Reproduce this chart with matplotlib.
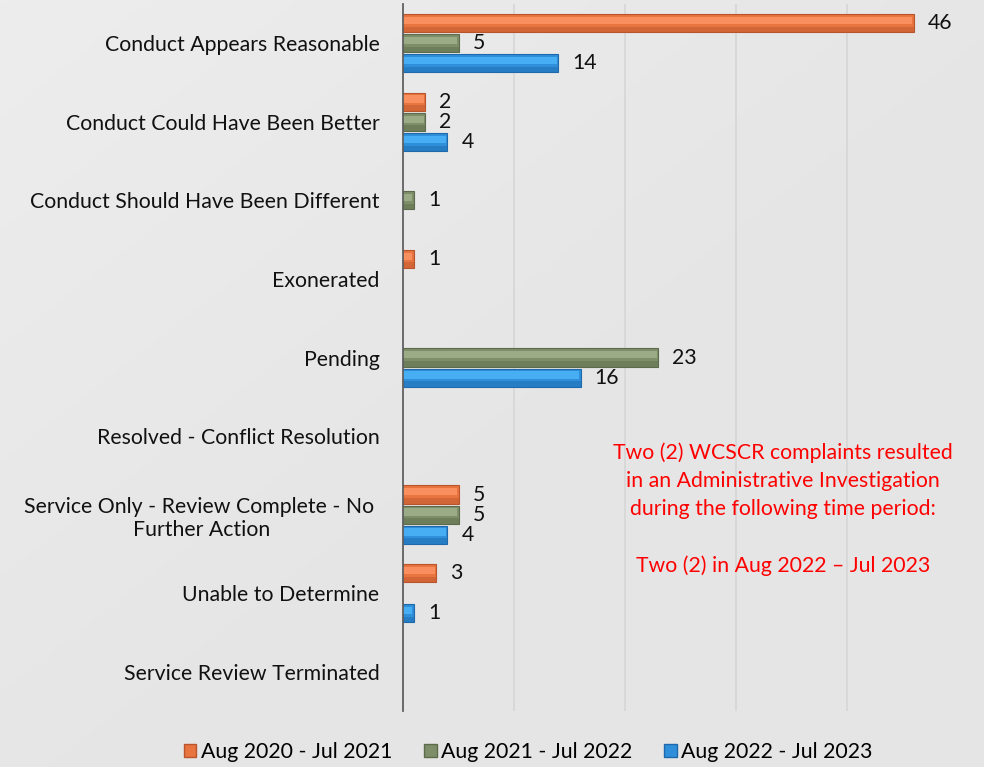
import numpy as np
import matplotlib
matplotlib.use("Agg")
import matplotlib.pyplot as plt
from matplotlib.patches import Patch

categories = [
    "Conduct Appears Reasonable",
    "Conduct Could Have Been Better",
    "Conduct Should Have Been Different",
    "Exonerated",
    "Pending",
    "Resolved - Conflict Resolution",
    "Service Only - Review Complete - No \nFurther Action",
    "Unable to Determine",
    "Service Review Terminated",
]
series_names = ["Aug 2020 - Jul 2021", "Aug 2021 - Jul 2022", "Aug 2022 - Jul 2023"]
aug20_jul21 = [46, 2, 0, 1, 0, 0, 5, 3, 0]
aug21_jul22 = [5, 2, 1, 0, 23, 0, 5, 0, 0]
aug22_jul23 = [14, 4, 0, 0, 16, 0, 4, 1, 0]

note = ("Two (2) WCSCR complaints resulted\n"
        "in an Administrative Investigation\n"
        "during the following time period:\n\n"
        "Two (2) in Aug 2022 \u2013 Jul 2023")

# (mid, light, dark) shades for the bevel look
palette = [
    ("#E8743F", "#F98F5E", "#B9552C"),
    ("#7D8E68", "#9BAB86", "#5C6B4B"),
    ("#2F8FDA", "#48AEF3", "#1E69AB"),
]

plt.rcParams["font.family"] = ["Lato", "DejaVu Sans"]
FS = 15.3

fig = plt.figure(figsize=(9.84, 7.67), dpi=100)
fig.patch.set_facecolor("#E5E5E5")

# soft diagonal background gradient
bg = fig.add_axes([0, 0, 1, 1], zorder=-10)
gx, gy = np.meshgrid(np.linspace(0, 1, 200), np.linspace(0, 1, 200))
grad = np.clip((gx + gy) / 1.2, 0, 1)
bg.imshow(grad, cmap=matplotlib.colors.LinearSegmentedColormap.from_list(
    "bgg", ["#EDEDED", "#E5E5E5"]), extent=[0, 1, 0, 1], aspect="auto", origin="upper")
bg.axis("off")

ax = fig.add_axes([403 / 984, 1 - 711 / 767, 555 / 984, 707 / 767])
ax.set_facecolor("none")

y = np.arange(len(categories))
h = 0.23
offsets = [-0.256, 0.0, 0.256]
all_series = [aug20_jul21, aug21_jul22, aug22_jul23]

for vals, off, (mid, light, dark) in zip(all_series, offsets, palette):
    vals = np.array(vals)
    ys = y + off
    mask = vals > 0
    ax.barh(ys[mask], vals[mask], height=h, color=mid, edgecolor=dark,
            linewidth=0.8, zorder=3)
    ax.barh(ys[mask] - h * 0.15, vals[mask] - 0.15, height=h * 0.4,
            color=light, linewidth=0, zorder=4)
    ax.barh(ys[mask] + h * 0.35, vals[mask], height=h * 0.3,
            color=dark, alpha=0.45, linewidth=0, zorder=4)
    for yy, v in zip(ys[mask], vals[mask]):
        ax.annotate(str(v), (v, yy), xytext=(10, 0), textcoords="offset points",
                    ha="left", va="center", fontsize=FS, color="#111111")

ax.set_xlim(0, 50)
ax.set_ylim(len(categories) - 0.5, -0.5)
ax.set_xticks([10, 20, 30, 40])
ax.set_xticklabels([])
ax.tick_params(axis="x", length=0)
ax.grid(axis="x", color="#D6D6D6", linewidth=1.2, zorder=0)
ax.set_yticks(y)
ax.set_yticklabels(categories, fontsize=FS, color="#111111", multialignment="center")
ax.tick_params(axis="y", length=0, pad=17)
for s in ["top", "right", "bottom"]:
    ax.spines[s].set_visible(False)
ax.spines["left"].set_color("#606060")
ax.spines["left"].set_linewidth(1.3)
ax.spines["left"].set_zorder(5)

fig.text(783 / 984, 1 - 509 / 767, note, color="#FF0000", fontsize=FS,
         ha="center", va="center", linespacing=1.5)

handles = [Patch(facecolor=p[0], edgecolor=p[2]) for p in palette]
fig.legend(handles, series_names, loc="center", bbox_to_anchor=(528 / 984, 1 - 752 / 767),
           ncol=3, frameon=False, fontsize=FS, handlelength=0.6, handleheight=0.6,
           handletextpad=0.2, columnspacing=1.5)

fig.savefig("out.png", dpi=100, facecolor=fig.get_facecolor())
